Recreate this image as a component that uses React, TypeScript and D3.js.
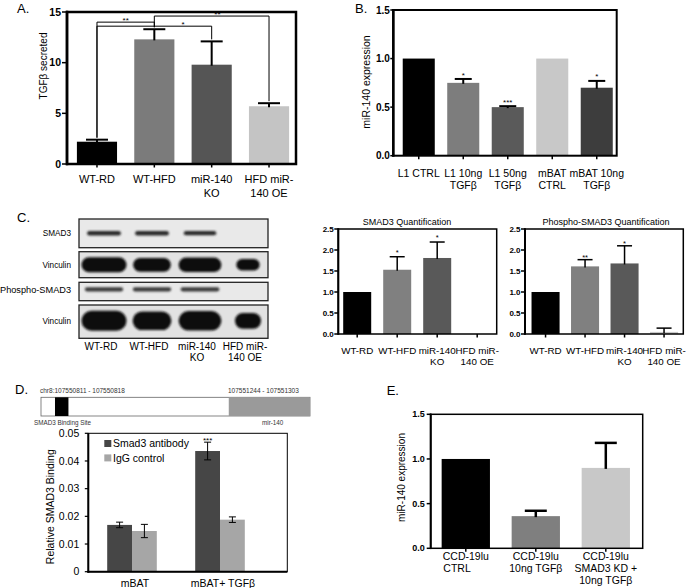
import React from "react";
import * as d3 from "d3";

const FONT = "'Liberation Sans', Arial, Helvetica, sans-serif";

// ---------- Panel A ----------
const aCategories = [["WT-RD"], ["WT-HFD"], ["miR-140", "KO"], ["HFD miR-", "140 OE"]];
const aValues = [2.2, 12.3, 9.8, 5.7];
const aErrors = [0.2, 1.0, 2.3, 0.3];
const aColors = ["#000000", "#7b7b7b", "#555555", "#c4c4c4"];
const aTicks = [0, 5, 10, 15];
const aBrackets = [
  { from: 0, to: 1, value: 14.0, label: "**", at: 0.5 },
  { from: 0, to: 2, value: 13.6, label: "*", at: 1.5 },
  { from: 1, to: 3, value: 14.6, label: "**", at: 2.1 },
];

// ---------- Panel B ----------
const bCategories = [["L1 CTRL"], ["L1 10ng", "TGFβ"], ["L1 50ng", "TGFβ"], ["mBAT", "CTRL"], ["mBAT 10ng", "TGFβ"]];
const bValues = [1.0, 0.75, 0.5, 1.0, 0.7];
const bErrors = [0, 0.04, 0.01, 0, 0.07];
const bStars = ["", "*", "***", "", "*"];
const bColors = ["#000000", "#7d7d7d", "#5a5a5a", "#c8c8c8", "#3d3d3d"];
const bTicks = [0, 0.5, 1.0, 1.5];

// ---------- Panel C (blot + quantification) ----------
const blotLanes = ["WT-RD", "WT-HFD", "miR-140 KO", "HFD miR-140 OE"];
const blotLaneLabels = [["WT-RD"], ["WT-HFD"], ["miR-140", "KO"], ["HFD miR-", "140 OE"]];
const blotRows = ["SMAD3", "Vinculin", "Phospho-SMAD3", "Vinculin"];
const smad3Band = [0.75, 0.75, 0.72, 0];
const vinculin1Band = [1.0, 0.84, 0.95, 0.52];
const phosphoBand = [0.85, 0.85, 0.86, 0];
const vinculin2Band = [1.0, 0.86, 0.95, 0.58];

const qCategories = [["WT-RD"], ["WT-HFD"], ["miR-140", "KO"], ["HFD miR-", "140 OE"]];
const qColors = ["#000000", "#808080", "#595959", "#c8c8c8"];
const qTicks = [0, 0.5, 1.0, 1.5, 2.0, 2.5];
const smad3Values = [1.0, 1.53, 1.81, 0];
const smad3Errors = [0, 0.31, 0.38, 0];
const smad3Stars = ["", "*", "*", ""];
const phosphoValues = [1.0, 1.61, 1.68, 0.05];
const phosphoErrors = [0, 0.16, 0.42, 0.09];
const phosphoStars = ["", "**", "*", ""];

// ---------- Panel D ----------
const dGroups = ["mBAT", "mBAT+ TGFβ"];
const dSeries = ["Smad3 antibody", "IgG control"];
const dSmad3 = [0.0169, 0.0436];
const dSmad3Err = [0.001, 0.0032];
const dIgG = [0.0147, 0.0188];
const dIgGErr = [0.0024, 0.001];
const dStars = ["", "***"];
const dColors = ["#464646", "#a6a6a6"];
const dTicks = [0, 0.01, 0.02, 0.03, 0.04, 0.05];
const geneSegments = [
  { start: 0.052, end: 0.102, color: "#000000" },
  { start: 0.698, end: 1.0, color: "#9a9a9a" },
];

// ---------- Panel E ----------
const eCategories = [["CCD-19lu", "CTRL\u00a0\u00a0\u00a0\u00a0\u00a0\u00a0"], ["CCD-19lu", "10ng TGFβ"], ["CCD-19lu", "SMAD3 KD +", "10ng TGFβ"]];
const eValues = [1.0, 0.36, 0.9];
const eErrors = [0, 0.06, 0.28];
const eColors = ["#000000", "#7f7f7f", "#c8c8c8"];
const eTicks = [0, 0.5, 1.0, 1.5];

type Bracket = { from: number; to: number; value: number; label: string; at: number };

type BarPanelProps = {
  cats: string[][];
  values: number[];
  errors: number[];
  colors: string[];
  stars?: string[];
  frame: [number, number, number, number];
  band: [number, number];
  pad: number;
  yMax: number;
  ticks: number[];
  fmt: (v: number) => string;
  tickFont: number;
  tickLen: number;
  labelGap: number;
  labelFont: number;
  labelY: number;
  lineH: number;
  capW: number;
  strokeW: number;
  leftW: number;
  errW: number;
  starFont: number;
  starGap: number;
  yTitle?: string;
  yTitleX?: number;
  yTitleY?: number;
  yTitleFont?: number;
  title?: string;
  titleX?: number;
  titleY?: number;
  titleFont?: number;
  brackets?: Bracket[];
};

function BarPanel(p: BarPanelProps) {
  const [x0, x1, yTop, yBottom] = p.frame;
  const n = p.values.length;
  const x = d3
    .scaleBand<number>()
    .domain(d3.range(n))
    .range(p.band)
    .paddingInner(p.pad)
    .paddingOuter(p.pad / 2);
  const y = d3.scaleLinear().domain([0, p.yMax]).range([yBottom, yTop]);
  const cx = (i: number) => (x(i) as number) + x.bandwidth() / 2;
  const step = x.step();
  const cxF = (f: number) => cx(0) + f * step;
  return (
    <g>
      {p.values.map((v, i) =>
        v > 0 ? (
          <rect key={"b" + i} x={x(i)} width={x.bandwidth()} y={y(v)} height={yBottom - y(v)} fill={p.colors[i]} />
        ) : null
      )}
      {p.values.map((v, i) =>
        p.errors[i] > 0 ? (
          <g key={"e" + i} stroke="#000" strokeWidth={p.errW}>
            <line x1={cx(i)} x2={cx(i)} y1={y(v) + 1} y2={y(v + p.errors[i])} />
            <line x1={cx(i) - p.capW / 2} x2={cx(i) + p.capW / 2} y1={y(v + p.errors[i])} y2={y(v + p.errors[i])} />
          </g>
        ) : null
      )}
      {p.stars &&
        p.stars.map((s, i) =>
          s ? (
            <text key={"s" + i} x={cx(i)} y={y(p.values[i] + p.errors[i]) - p.starGap + p.starFont * 0.57} fontSize={p.starFont} textAnchor="middle">
              {s}
            </text>
          ) : null
        )}
      {p.brackets &&
        p.brackets.map((b, k) => {
          const yl = y(b.value);
          const top = (i: number) => y(p.values[i] + p.errors[i]) - 2;
          return (
            <g key={"br" + k}>
              <path
                d={`M${cx(b.from)},${top(b.from)}V${yl}H${cx(b.to)}V${top(b.to)}`}
                fill="none"
                stroke="#000"
                strokeWidth={1}
              />
              <text x={cxF(b.at)} y={yl - 4 + p.starFont * 0.57} fontSize={p.starFont} textAnchor="middle">
                {b.label}
              </text>
            </g>
          );
        })}
      <rect x={x0} y={yTop} width={x1 - x0} height={yBottom - yTop} fill="none" stroke="#000" strokeWidth={p.strokeW} />
      <line x1={x0} x2={x0} y1={yTop - p.strokeW / 2} y2={yBottom + p.strokeW / 2} stroke="#000" strokeWidth={p.leftW} />
      {p.ticks.map((t) => (
        <g key={"t" + t}>
          <line x1={x0 - p.tickLen} x2={x0} y1={y(t)} y2={y(t)} stroke="#000" strokeWidth={1.5} />
          <text x={x0 - p.tickLen - p.labelGap} y={y(t)} dy="0.35em" fontSize={p.tickFont} fontWeight="bold" textAnchor="end">
            {p.fmt(t)}
          </text>
        </g>
      ))}
      {p.values.map((_, i) => (
        <line key={"xt" + i} x1={cx(i)} x2={cx(i)} y1={yBottom} y2={yBottom + 3.5} stroke="#000" strokeWidth={1.5} />
      ))}
      {p.cats.map((lines, i) =>
        lines.map((ln, j) => (
          <text key={"l" + i + "_" + j} x={cx(i)} y={p.labelY + j * p.lineH} fontSize={p.labelFont} textAnchor="middle" style={{ whiteSpace: "pre" }}>
            {ln}
          </text>
        ))
      )}
      {p.yTitle && (
        <text transform={`translate(${p.yTitleX},${p.yTitleY}) rotate(-90)`} fontSize={p.yTitleFont} textAnchor="middle">
          {p.yTitle}
        </text>
      )}
      {p.title && (
        <text x={p.titleX} y={p.titleY} fontSize={p.titleFont} textAnchor="middle">
          {p.title}
        </text>
      )}
    </g>
  );
}

function Blot() {
  const fx0 = 79,
    fx1 = 268;
  const lane = d3.scaleBand<string>().domain(blotLanes).range([80, 272]);
  const lc = (i: number) => (lane(blotLanes[i]) as number) + lane.bandwidth() / 2;
  const widthScale = d3.scaleLinear().domain([0, 1]).range([0, 45]);
  const rows = [
    { label: blotRows[0], y0: 219, y1: 247.7, cy: 233.2, th: 5, bands: smad3Band, color: "#2a2a2a", font: 8.2, bg: "#e9e9e9" },
    { label: blotRows[1], y0: 251.7, y1: 277.7, cy: 264.8, th: 15, bands: vinculin1Band, color: "#111", font: 8.2, bg: "#e2e2e2" },
    { label: blotRows[2], y0: 282.3, y1: 300.7, cy: 289.3, th: 4.5, bands: phosphoBand, color: "#3a3a3a", font: 9.2, bg: "#e9e9e9" },
    { label: blotRows[3], y0: 305, y1: 338.3, cy: 320.8, th: 20, bands: vinculin2Band, color: "#111", font: 8.2, bg: "#e2e2e2" },
  ];
  return (
    <g>
      {rows.map((r, k) => (
        <g key={"r" + k}>
          <rect x={fx0} y={r.y0} width={fx1 - fx0} height={r.y1 - r.y0} fill={r.bg} stroke="#222" strokeWidth={1.3} />
          <g filter="url(#blur)">
            {r.bands.map((b, i) => {
              if (b <= 0) return null;
              const w = widthScale(b);
              const h = r.th * (0.5 + 0.5 * b);
              return <rect key={i} x={lc(i) - w / 2} y={r.cy - h / 2} width={w} height={h} rx={h / 2} fill={r.color} />;
            })}
          </g>
          <text x={71} y={r.cy} dy="0.35em" fontSize={r.font} textAnchor="end">
            {r.label}
          </text>
        </g>
      ))}
      {blotLaneLabels.map((lines, i) =>
        lines.map((ln, j) => (
          <text key={"bl" + i + j} x={lc(i) - 3} y={350 + j * 10.8} fontSize={10} textAnchor="middle">
            {ln}
          </text>
        ))
      )}
    </g>
  );
}

function PanelD() {
  const x0 = 88.3,
    x1 = 287.3,
    yTop = 433.3,
    yBottom = 571.7;
  const x = d3.scaleBand<string>().domain(dGroups).range([88, 264]);
  const sub = d3.scaleBand<string>().domain(dSeries).range([-24.8, 24.8]);
  const y = d3.scaleLinear().domain([0, 0.05]).range([yBottom, yTop]);
  const gc = (g: string) => (x(g) as number) + x.bandwidth() / 2;
  const series = [
    { name: dSeries[0], vals: dSmad3, errs: dSmad3Err, color: dColors[0], stars: dStars },
    { name: dSeries[1], vals: dIgG, errs: dIgGErr, color: dColors[1], stars: ["", ""] },
  ];
  const gx = d3.scaleLinear().domain([0, 1]).range([41, 310]);
  return (
    <g>
      <text x={40} y={393} fontSize={6.5} fill="#333">chr8:107550811 - 107550818</text>
      <text x={228} y={393} fontSize={6.5} fill="#333">107551244 - 107551303</text>
      <rect x={gx(0)} y={397.3} width={gx(1) - gx(0)} height={18.7} fill="#fff" stroke="#666" strokeWidth={0.8} />
      {geneSegments.map((s, i) => (
        <rect key={i} x={gx(s.start)} y={397.3} width={gx(s.end) - gx(s.start)} height={18.7} fill={s.color} />
      ))}
      <text x={34} y={424.5} fontSize={6.3} fill="#333">SMAD3 Binding Site</text>
      <text x={262} y={424.5} fontSize={6.3} fill="#333">mir-140</text>

      {series.map((s) =>
        dGroups.map((g, i) => {
          const bx = gc(g) + (sub(s.name) as number);
          const bw = sub.bandwidth();
          const v = s.vals[i];
          const e = s.errs[i];
          const c = bx + bw / 2;
          return (
            <g key={s.name + g}>
              <rect x={bx} y={y(v)} width={bw} height={yBottom - y(v)} fill={s.color} />
              <g stroke="#000" strokeWidth={1}>
                <line x1={c} x2={c} y1={y(v - e)} y2={y(v + e)} />
                <line x1={c - 3.5} x2={c + 3.5} y1={y(v - e)} y2={y(v - e)} />
                <line x1={c - 3.5} x2={c + 3.5} y1={y(v + e)} y2={y(v + e)} />
              </g>
              {s.stars[i] && (
                <text x={c} y={y(v + e) - 4 + 4.6} fontSize={8} textAnchor="middle">
                  {s.stars[i]}
                </text>
              )}
            </g>
          );
        })
      )}
      <rect x={x0} y={yTop} width={x1 - x0} height={yBottom - yTop} fill="none" stroke="#000" strokeWidth={1} />
      <line x1={x0} x2={x0} y1={yTop} y2={yBottom + 1} stroke="#000" strokeWidth={2} />
      <line x1={x0 - 1} x2={x1} y1={yBottom} y2={yBottom} stroke="#000" strokeWidth={2} />
      {dTicks.map((t) => (
        <g key={t}>
          <line x1={x0 - 3.5} x2={x0} y1={y(t)} y2={y(t)} stroke="#000" strokeWidth={1.2} />
          <text x={x0 - 9} y={y(t)} dy="0.35em" fontSize={10.5} textAnchor="end">
            {t === 0 ? "0" : t.toFixed(2)}
          </text>
        </g>
      ))}
      {dGroups.map((g) => (
        <text key={g} x={gc(g) + 3} y={587} fontSize={10.5} textAnchor="middle">
          {g}
        </text>
      ))}
      {series.map((s, k) => (
        <g key={"lg" + k}>
          <rect x={104.3} y={440 + k * 14.4} width={7} height={7} fill={s.color} />
          <text x={113} y={447.3 + k * 14.4} fontSize={10.5}>
            {s.name}
          </text>
        </g>
      ))}
      <text transform={`translate(54,506.7) rotate(-90)`} fontSize={10.5} textAnchor="middle">
        Relative SMAD3 Binding
      </text>
    </g>
  );
}

export default function App() {
  const f1 = d3.format(".1f");
  return (
    <svg width={696} height={588} style={{ position: "absolute", left: 0, top: 0 }} fontFamily={FONT}>
      <rect width={696} height={588} fill="#fff" />
      <defs>
        <filter id="blur" x="-20%" y="-50%" width="140%" height="200%">
          <feGaussianBlur stdDeviation="1.1" />
        </filter>
      </defs>
      <text x={17} y={12.5} fontSize={13}>A.</text>
      <text x={355} y={12.5} fontSize={13}>B.</text>
      <text x={17} y={222} fontSize={13}>C.</text>
      <text x={15} y={394} fontSize={13}>D.</text>
      <text x={386.7} y={395} fontSize={13}>E.</text>

      <BarPanel
        cats={aCategories}
        values={aValues}
        errors={aErrors}
        colors={aColors}
        frame={[67, 296, 12, 164]}
        band={[68.3, 297.7]}
        pad={0.3}
        yMax={15}
        ticks={aTicks}
        fmt={(v) => String(v)}
        tickFont={10.5}
        tickLen={5}
        labelGap={1}
        labelFont={11}
        labelY={183}
        lineH={13.5}
        capW={22}
        strokeW={2.5}
        leftW={2.5}
        errW={2}
        starFont={8}
        starGap={5}
        yTitle="TGFβ secreted"
        yTitleX={47}
        yTitleY={66}
        yTitleFont={10}
        brackets={aBrackets}
      />

      <BarPanel
        cats={bCategories}
        values={bValues}
        errors={bErrors}
        colors={bColors}
        stars={bStars}
        frame={[393.3, 616.7, 10, 155.7]}
        band={[396.5, 619]}
        pad={0.28}
        yMax={1.5}
        ticks={bTicks}
        fmt={f1}
        tickFont={10}
        tickLen={3}
        labelGap={0.5}
        labelFont={10.5}
        labelY={177}
        lineH={12}
        capW={17}
        strokeW={2}
        leftW={2.5}
        errW={2}
        starFont={8}
        starGap={6}
        yTitle="miR-140 expression"
        yTitleX={370}
        yTitleY={82}
        yTitleFont={10.5}
      />

      <Blot />

      <BarPanel
        cats={qCategories}
        values={smad3Values}
        errors={smad3Errors}
        colors={qColors}
        stars={smad3Stars}
        frame={[338.3, 496.7, 229, 334]}
        band={[337.2, 497.2]}
        pad={0.3}
        yMax={2.5}
        ticks={qTicks}
        fmt={f1}
        tickFont={8}
        tickLen={4}
        labelGap={0.5}
        labelFont={9.8}
        labelY={354}
        lineH={11}
        capW={15}
        strokeW={1.5}
        leftW={2}
        errW={1.5}
        starFont={7.5}
        starGap={6}
        title="SMAD3 Quantification"
        titleX={407}
        titleY={225}
        titleFont={9}
      />

      <BarPanel
        cats={qCategories}
        values={phosphoValues}
        errors={phosphoErrors}
        colors={qColors}
        stars={phosphoStars}
        frame={[525, 683.3, 229, 334]}
        band={[525.8, 683.8]}
        pad={0.29}
        yMax={2.5}
        ticks={qTicks}
        fmt={f1}
        tickFont={8}
        tickLen={4}
        labelGap={0.5}
        labelFont={9.8}
        labelY={354}
        lineH={11}
        capW={15}
        strokeW={1.5}
        leftW={2}
        errW={1.5}
        starFont={7.5}
        starGap={4}
        title="Phospho-SMAD3 Quantification"
        titleX={606}
        titleY={225}
        titleFont={9}
      />

      <PanelD />

      <BarPanel
        cats={eCategories}
        values={eValues}
        errors={eErrors}
        colors={eColors}
        frame={[430.7, 642.7, 414.3, 548.3]}
        band={[430.8, 640.8]}
        pad={0.31}
        yMax={1.5}
        ticks={eTicks}
        fmt={f1}
        tickFont={9}
        tickLen={4}
        labelGap={2}
        labelFont={10.5}
        labelY={560}
        lineH={12.2}
        capW={22}
        strokeW={1.5}
        leftW={2}
        errW={2.5}
        starFont={8}
        starGap={5}
        yTitle="miR-140 expression"
        yTitleX={405}
        yTitleY={477.5}
        yTitleFont={10}
      />
    </svg>
  );
}
